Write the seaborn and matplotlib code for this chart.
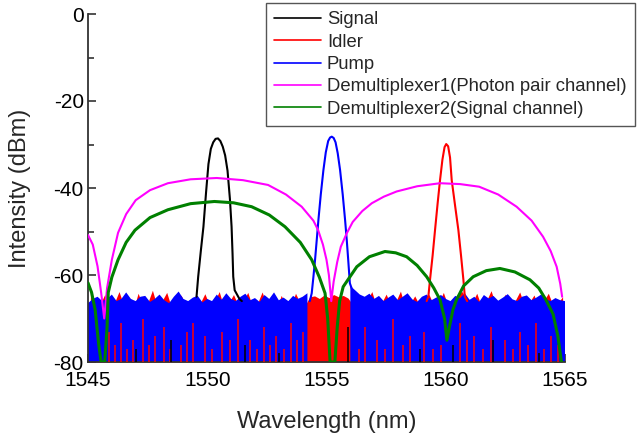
import numpy as np
import matplotlib
matplotlib.use("Agg")
import matplotlib.pyplot as plt
import seaborn as sns

# ---------------- data ----------------
sig_x = [1549.55, 1549.62, 1549.73, 1549.84, 1549.95, 1550.05, 1550.15, 1550.25, 1550.35,
         1550.45, 1550.55, 1550.65, 1550.75, 1550.85, 1550.95, 1551.02, 1551.06, 1551.09,
         1551.15, 1551.25, 1551.35, 1551.45]
sig_y = [-65.0, -60.4, -54.5, -48.9, -41.0, -34.5, -31.0, -29.5, -28.7,
         -28.6, -29.2, -30.5, -32.5, -36.0, -42.5, -48.9, -55.0, -60.4,
         -63.5, -64.5, -65.5, -66.0]

idl_x = [1559.2, 1559.27, 1559.34, 1559.45, 1559.55, 1559.66, 1559.76, 1559.86, 1559.95,
         1560.02, 1560.1, 1560.18, 1560.25, 1560.39, 1560.53, 1560.64, 1560.74, 1560.8, 1560.9]
idl_y = [-66.0, -65.0, -61.1, -55.5, -49.7, -43.5, -38.2, -33.5, -30.6,
         -29.9, -30.4, -33.0, -38.2, -44.0, -49.7, -55.5, -61.1, -65.0, -66.0]

pump_x = [1554.3, 1554.38, 1554.45, 1554.52, 1554.59, 1554.66, 1554.76, 1554.87, 1554.97,
          1555.07, 1555.15, 1555.22, 1555.3, 1555.38, 1555.47, 1555.57, 1555.68, 1555.78,
          1555.85, 1555.91, 1555.98, 1556.05]
pump_y = [-66.0, -64.2, -60.5, -56.5, -52.0, -47.4, -41.5, -35.9, -31.8,
          -29.2, -28.4, -28.2, -28.5, -29.5, -32.0, -35.9, -41.5, -47.4,
          -52.0, -56.5, -61.9, -63.0]

dm1_x = [1545.0, 1545.2, 1545.4, 1545.55, 1545.68, 1545.8, 1546.0, 1546.26, 1546.6, 1547.0,
         1547.6, 1548.35, 1549.3, 1550.4, 1551.5, 1552.55, 1553.3, 1553.96, 1554.45, 1554.65,
         1554.85, 1555.0, 1555.1, 1555.2, 1555.3, 1555.45, 1555.6, 1555.85, 1556.1, 1556.5,
         1556.9, 1557.4, 1557.94, 1558.8, 1559.76, 1560.6, 1561.4, 1562.2, 1562.97, 1563.6,
         1564.08, 1564.4, 1564.65, 1564.8, 1564.88]
dm1_y = [-50.8, -53.0, -58.0, -64.0, -70.0, -63.0, -56.5, -50.3, -46.0, -42.8,
         -40.5, -38.9, -38.0, -37.7, -38.2, -39.3, -41.5, -44.3, -47.5, -49.7,
         -53.0, -56.5, -60.0, -66.0, -61.5, -57.0, -53.5, -50.4, -47.8, -45.3,
         -43.5, -42.0, -40.8, -39.6, -38.9, -39.1, -39.7, -41.5, -44.3, -47.5,
         -51.2, -54.5, -58.1, -62.0, -65.0]

dm2_x = [1545.0, 1545.15, 1545.3, 1545.45, 1545.55, 1545.7, 1545.8, 1545.85, 1546.0, 1546.26,
         1546.6, 1546.97, 1547.6, 1548.35, 1549.3, 1550.3, 1551.1, 1551.86, 1552.6, 1553.26,
         1553.9, 1554.38, 1554.7, 1554.94, 1555.05, 1555.15, 1555.35, 1555.45, 1555.55, 1555.7,
         1556.27, 1556.8, 1557.45, 1557.9, 1558.36, 1558.8, 1559.2, 1559.5, 1559.76, 1559.95,
         1560.05, 1560.15, 1560.3, 1560.45, 1560.75, 1561.15, 1561.7, 1562.27, 1562.9, 1563.53,
         1563.9, 1564.2, 1564.5, 1564.7, 1564.85]
dm2_y = [-61.8, -64.0, -68.0, -76.0, -80.0, -80.0, -72.0, -64.0, -60.5, -56.5,
         -52.5, -49.7, -46.8, -45.0, -43.6, -43.1, -43.4, -44.3, -46.2, -48.9,
         -52.5, -56.5, -60.5, -64.2, -70.0, -80.0, -80.0, -72.0, -66.0, -62.7,
         -58.1, -55.8, -54.6, -54.9, -55.8, -57.8, -60.4, -63.0, -65.7, -70.0,
         -75.0, -72.0, -68.0, -65.7, -62.5, -60.4, -59.0, -58.5, -59.3, -61.1,
         -63.0, -65.7, -69.0, -74.0, -80.0]

# noise floor (upper envelope of the dense noise, 0.2 nm sampling)
pump_noise_x = [1545.0 + 0.2 * i for i in range(101)]
pump_noise_top = [
    -66.5, -65.5, -65.0, -66.0, -65.5, -64.5, -66.0, -65.5, -64.0, -65.5,
    -66.0, -65.0, -64.8, -66.2, -65.5, -64.5, -65.8, -66.5, -65.0, -63.8,
    -65.5, -66.0, -65.2, -64.8, -66.3, -65.5, -66.0, -64.5, -65.7, -64.2,
    -65.5, -66.0, -65.0, -64.3, -65.8, -65.3, -66.2, -64.6, -65.5, -64.0,
    -65.8, -65.2, -66.0, -64.8, -65.5, -65.0, -64.2, np.nan, np.nan, np.nan,
    np.nan, np.nan, np.nan, np.nan, np.nan, -62.5, -63.5, -64.5, -65.0, -64.3,
    -65.5, -64.8, -66.0, -65.2, -64.5, -65.8, -65.0, -64.2, -65.6, -66.2,
    -65.0, -64.5, -65.8, -65.2, -64.6, -65.5, -66.0, -64.8, -65.3, -64.2,
    -65.7, -65.0, -66.2, -64.6, -65.4, -64.8, -65.9, -65.2, -64.4, -65.6,
    -66.0, -65.0, -64.7, -65.8, -65.2, -64.5, -65.6, -66.0, -65.3, -65.8,
    -66.0]
idler_noise_x = [1545.1 + 0.2 * i for i in range(100)]
idler_noise_top = [
    -63.5, -67.0, -66.8, -64.5, -67.5, -66.5, -63.8, -67.0, -66.2, -68.0,
    -64.2, -67.0, -66.5, -63.5, -67.2, -66.0, -64.0, -67.5, -66.8, -64.6,
    -67.0, -66.0, -68.0, -66.5, -64.3, -67.0, -66.2, -63.8, -67.5, -66.4,
    -64.5, -67.0, -66.0, -64.0, -67.3, -66.6, -63.9, -67.0, -66.2, -68.0,
    -64.7, -66.8, -67.4, -64.2, -66.5, -67.0, -65.0, -64.8, -65.4, -64.6,
    -65.2, -64.5, -65.0, -64.7, -65.3, -66.8, -64.3, -67.0, -66.0, -63.8,
    -67.2, -66.5, -64.4, -67.0, -66.2, -63.7, -67.5, -66.6, -64.8, -67.0,
    -65.5, -64.5, -67.0, -66.5, -64.0, -67.2, -66.0, -64.5, -63.8, -67.0,
    -66.4, -64.2, -67.3, -66.0, -63.6, -67.0, -66.5, -64.4, -67.2, -66.0,
    -63.9, -67.0, -66.3, -64.6, -67.5, -66.0, -64.2, -67.0, -66.4, -65.0]

red_streak_x = [1545.9, 1546.15, 1546.4, 1546.65, 1546.9, 1547.3, 1547.55, 1547.8, 1548.2, 1548.45,
                1548.9, 1549.15, 1549.4, 1549.9, 1550.2, 1550.6, 1550.95, 1551.3, 1551.8, 1552.1,
                1552.4, 1552.65, 1552.9, 1553.2, 1553.5, 1553.75, 1554.0, 1556.35, 1556.6, 1557.1,
                1557.45, 1557.8, 1558.2, 1558.5, 1559.1, 1559.45, 1559.8, 1560.6, 1560.9, 1561.2,
                1561.55, 1561.9, 1562.5, 1562.8, 1563.1, 1563.45, 1563.8, 1564.1, 1564.4, 1564.7]
red_streak_top = [-73, -76, -71, -77, -75, -70, -76, -74, -72, -77,
                  -76, -73, -71, -74, -77, -73, -75, -70, -75, -77,
                  -72, -76, -74, -77, -71, -75, -73, -77, -72, -75,
                  -77, -70, -76, -74, -73, -77, -76, -71, -75, -74,
                  -77, -72, -75, -77, -73, -76, -71, -77, -74, -76]
black_streak_x = [1547.0, 1548.5, 1551.6, 1553.0, 1555.9, 1558.9, 1560.3, 1562.0, 1563.9]
black_streak_top = [-77, -75, -76, -78, -72, -77, -76, -75, -78]

labels = ["Signal", "Idler", "Pump",
          "Demultiplexer1(Photon pair channel)", "Demultiplexer2(Signal channel)"]
x_ticks = [1545, 1550, 1555, 1560, 1565]
y_ticks = [0, -20, -40, -60, -80]

# ---------------- style ----------------
sns.set_style("ticks")
plt.rcParams["font.family"] = ["Liberation Sans", "DejaVu Sans"]

BLACK, RED, BLUE, MAG, GREEN = "#000000", "#ff0000", "#0000ff", "#ff00ff", "#008000"

fig = plt.figure(figsize=(6.37, 4.38), dpi=100)
ax = fig.add_axes([88 / 637, 1 - 362 / 438, (565 - 88) / 637, (362 - 14) / 438])

floor = -80
# dense noise floors
ax.fill_between(idler_noise_x, floor, idler_noise_top, color=RED, lw=0, zorder=1)
pnx = np.array(pump_noise_x)
pnt = np.array(pump_noise_top)
ax.fill_between(pnx, floor, pnt, where=~np.isnan(pnt), color=BLUE, lw=0, zorder=2)
ax.vlines(red_streak_x, floor, red_streak_top, color=RED, lw=1.1, zorder=3)
ax.vlines(black_streak_x, floor, black_streak_top, color=BLACK, lw=1.1, zorder=3)

sns.lineplot(x=sig_x, y=sig_y, color=BLACK, lw=1.5, ax=ax, sort=False, estimator=None,
             label=labels[0], zorder=4)
sns.lineplot(x=idl_x, y=idl_y, color=RED, lw=1.5, ax=ax, sort=False, estimator=None,
             label=labels[1], zorder=4)
sns.lineplot(x=pump_x, y=pump_y, color=BLUE, lw=1.5, ax=ax, sort=False, estimator=None,
             label=labels[2], zorder=4)
sns.lineplot(x=dm1_x, y=dm1_y, color=MAG, lw=1.5, ax=ax, sort=False, estimator=None,
             label=labels[3], zorder=5)
sns.lineplot(x=dm2_x, y=dm2_y, color=GREEN, lw=2.2, ax=ax, sort=False, estimator=None,
             label=labels[4], zorder=6)

ax.set_xlim(1545, 1565)
ax.set_ylim(-80, 0)
ax.set_xticks(x_ticks)
ax.set_yticks(y_ticks)
ax.set_yticks([-10, -30, -50, -70], minor=True)
ax.set_xticklabels([str(t) for t in x_ticks])
ax.set_yticklabels([str(t) for t in y_ticks])
ax.tick_params(axis="both", which="major", direction="in", length=6, width=1.2,
               labelsize=15, colors="#333333", labelcolor="black")
ax.tick_params(axis="both", which="minor", direction="in", length=4, width=1.2, colors="#333333")
ax.tick_params(axis="x", pad=6.5)
ax.tick_params(axis="y", pad=3)
for s in ["top", "right"]:
    ax.spines[s].set_visible(False)
for s in ["left", "bottom"]:
    ax.spines[s].set_linewidth(1.3)
    ax.spines[s].set_color("#333333")

ax.set_xlabel("Wavelength (nm)", fontsize=17, labelpad=15)
ax.set_ylabel("Intensity (dBm)", fontsize=17, labelpad=16)

h, l = ax.get_legend_handles_labels()
ax.get_legend().remove()
leg = fig.legend(h, l, loc="upper left", bbox_to_anchor=(266 / 637, 1 - 3 / 438),
                 bbox_transform=fig.transFigure, frameon=True, fancybox=False,
                 edgecolor="#555555", framealpha=1, fontsize=13.3, handlelength=2.55,
                 handletextpad=0.3, labelspacing=0.29, borderpad=0.45, borderaxespad=0)
leg.get_frame().set_linewidth(1.0)
for line in leg.get_lines():
    line.set_linewidth(1.2)

fig.savefig("out.png", dpi=100)
